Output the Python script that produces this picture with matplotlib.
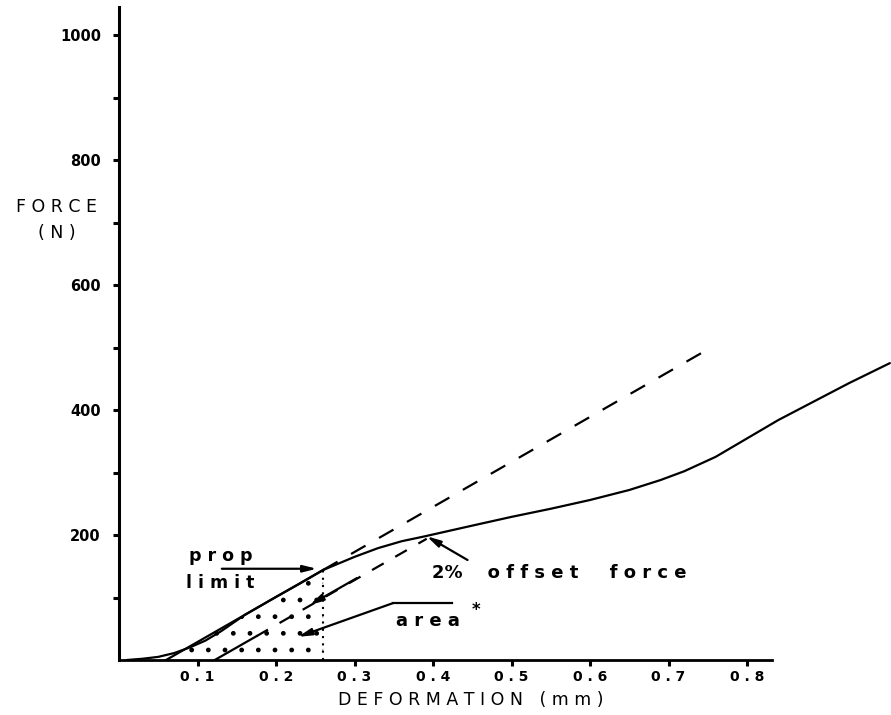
import matplotlib.pyplot as plt
import numpy as np

plt.rcParams['font.family'] = ['DejaVu Sans']
plt.rcParams['hatch.linewidth'] = 1.0

# load-deformation curve (mm, N)
deform = [0.01, 0.03, 0.05, 0.07, 0.09, 0.11, 0.13, 0.16, 0.20, 0.23, 0.26,
          0.30, 0.33, 0.36, 0.39, 0.45, 0.50, 0.55, 0.60, 0.65, 0.69, 0.72,
          0.76, 0.84, 0.93, 0.982]
force = [0, 2, 5, 11, 20, 31, 46, 72, 101, 122, 144,
         165, 179, 190, 198, 215, 229, 242, 256, 272, 288, 302,
         325, 384, 443, 475]

# elastic line through the proportional limit, and the offset line parallel to it
elastic_x = [0.06, 0.26, 0.757]
elastic_f = [0, 144, 502]
offset_x = [0.122, 0.175, 0.392]
offset_f = [0, 38, 194]

prop_limit = (0.26, 144)
offset_point = (0.392, 198)

x_ticks = [0.1, 0.2, 0.3, 0.4, 0.5, 0.6, 0.7, 0.8]
x_labels = ['0.1', '0.2', '0.3', '0.4', '0.5', '0.6', '0.7', '0.8']
y_major = [200, 400, 600, 800, 1000]
y_labels = ['200', '400', '600', '800', '1000']
y_minor = [100, 300, 500, 700, 900]


def spaced(s, gap='   '):
    # plotter-style lettering: a gap between every letter
    return gap.join(' '.join(w) for w in s.split(' '))


fig = plt.figure(figsize=(8.91, 7.15), dpi=100)
ax = fig.add_axes([119 / 891, 55 / 715, 772 / 891, 660 / 715])
ax.set_xlim(0, 772 / 785)
ax.set_ylim(0, 1056)

# main curve
ax.plot(deform, force, color='black', lw=1.6, solid_capstyle='round')

# elastic line: solid under the curve, dashed past the proportional limit
ax.plot(elastic_x[:2], elastic_f[:2], color='black', lw=1.6)
ax.plot(elastic_x[1:], elastic_f[1:], color='black', lw=1.6, dashes=(7.5, 7))

# offset line
ax.plot(offset_x[:2], offset_f[:2], color='black', lw=1.6)
ax.plot(offset_x[1:], offset_f[1:], color='black', lw=1.6, dashes=(6, 6))

# stippled area under the elastic line up to the proportional limit
xs = np.linspace(elastic_x[0], prop_limit[0], 60)
ys = np.interp(xs, elastic_x, elastic_f)
ax.fill_between(xs, 0, ys, facecolor='none', edgecolor='black', hatch='.', lw=0)
ax.vlines(prop_limit[0], 0, prop_limit[1], colors='black', linestyles=(0, (1, 2.5)), lw=1.5)

# annotations
arrow = dict(arrowstyle='-|>,head_length=0.8,head_width=0.2', color='black', lw=1.6,
             shrinkA=0, shrinkB=0)
ax.annotate('', xy=(0.252, prop_limit[1] + 2), xytext=(0.131, prop_limit[1] + 2),
            arrowprops=arrow)
ax.text(0.129, 167, spaced('prop'), ha='center', va='center', fontsize=12.5,
        fontweight='bold')
ax.text(0.129, 124, spaced('limit'), ha='center', va='center', fontsize=12.5,
        fontweight='bold')

ax.annotate('', xy=offset_point, xytext=(0.444, 160), arrowprops=arrow)
ax.text(0.399, 140, '2%    ' + spaced('offset force', '     '), ha='left',
        va='center', fontsize=13, fontweight='bold')

# arrow laid along the offset line
ax.annotate('', xy=(0.243, 88), xytext=(0.303, 131), arrowprops=arrow)

# area label with its leader
ax.plot([0.349, 0.424], [91, 91], color='black', lw=1.6)
ax.annotate('', xy=(0.228, 37), xytext=(0.349, 91), arrowprops=arrow)
ax.text(0.394, 62, spaced('area'), ha='center', va='center', fontsize=13,
        fontweight='bold')
ax.text(0.455, 80, '*', ha='center', va='center', fontsize=12, fontweight='bold')

# axes
for side in ['top', 'right']:
    ax.spines[side].set_visible(False)
ax.spines['left'].set_linewidth(2.2)
ax.spines['bottom'].set_linewidth(2.0)
ax.spines['left'].set_bounds(0, 1045)
ax.spines['bottom'].set_bounds(0, 0.832)

ax.set_xticks(x_ticks)
ax.set_xticklabels([spaced(l) for l in x_labels], fontsize=10, fontweight='bold')
ax.set_yticks(y_major)
ax.set_yticklabels(y_labels, fontsize=10.5, fontweight='bold')
ax.set_yticks(y_minor, minor=True)
ax.tick_params(axis='both', which='both', direction='out', length=4, width=2.2,
               color='black')
ax.tick_params(axis='y', which='major', pad=9)
ax.tick_params(axis='x', which='major', pad=3)

fig.text(56 / 891, 1 - 207 / 715, spaced('FORCE'), ha='center', va='center',
         fontsize=12.5)
fig.text(57 / 891, 1 - 233 / 715, spaced('(N)'), ha='center', va='center',
         fontsize=12.5)
fig.text(471 / 891, 1 - 700 / 715, spaced('DEFORMATION') + '   ' + spaced('(mm)'),
         ha='center', va='center', fontsize=12.5)

fig.savefig('out.png', dpi=100)
